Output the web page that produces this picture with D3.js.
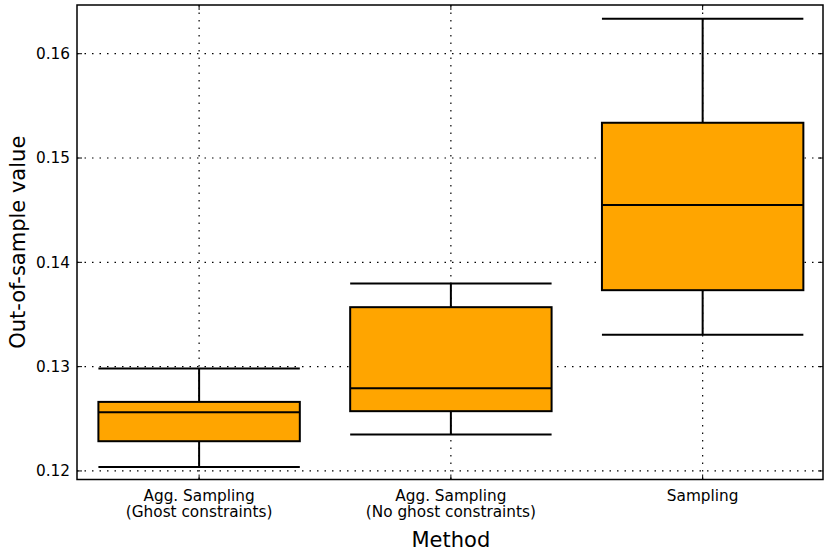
<!DOCTYPE html>
<html>
<head>
<meta charset="utf-8">
<script src="https://cdn.jsdelivr.net/npm/d3@7"></script>
<style>
  body { margin: 0; background: #fff; }
  text { font-family: "DejaVu Sans", sans-serif; }
</style>
</head>
<body>
<svg width="830" height="554"></svg>
<script>
"use strict";
// data
var methods = ['Agg. Sampling\n(Ghost constraints)', 'Agg. Sampling\n(No ghost constraints)', 'Sampling'];
var whiskerLow = [0.12038, 0.12349, 0.13305];
var q1 = [0.12285, 0.12573, 0.13733];
var median = [0.12563, 0.12793, 0.14549];
var q3 = [0.12662, 0.13570, 0.15338];
var whiskerHigh = [0.12982, 0.13798, 0.16336];
var yTicks = [0.12, 0.13, 0.14, 0.15, 0.16];

var svg = d3.select('svg');
var plotLeft = 77, plotRight = 823, plotTop = 5, plotBottom = 479.5;

var x = d3.scaleLinear().domain([0.515, 3.478]).range([plotLeft, plotRight]);
var y = d3.scaleLinear().domain([0.11918, 0.16467]).range([plotBottom, plotTop]);
var boxHalf = 0.4;

// grid
var grid = svg.append('g')
    .attr('stroke', '#000')
    .attr('stroke-width', 1.2)
    .attr('stroke-dasharray', '1.5,6');
grid.selectAll('.gy').data(yTicks).enter().append('line')
    .attr('x1', plotLeft).attr('x2', plotRight)
    .attr('y1', function (d) { return y(d); })
    .attr('y2', function (d) { return y(d); });
grid.selectAll('.gx').data(methods).enter().append('line')
    .attr('y1', plotTop).attr('y2', plotBottom)
    .attr('x1', function (d, i) { return x(i + 1); })
    .attr('x2', function (d, i) { return x(i + 1); });

// boxes
var boxG = svg.append('g');
methods.forEach(function (m, i) {
    var p = i + 1;
    var g = boxG.append('g');
    // whiskers
    g.append('line')
        .attr('x1', x(p)).attr('x2', x(p))
        .attr('y1', y(whiskerHigh[i])).attr('y2', y(q3[i]))
        .attr('stroke', '#000').attr('stroke-width', 2);
    g.append('line')
        .attr('x1', x(p)).attr('x2', x(p))
        .attr('y1', y(q1[i])).attr('y2', y(whiskerLow[i]))
        .attr('stroke', '#000').attr('stroke-width', 2);
    // caps
    [whiskerHigh[i], whiskerLow[i]].forEach(function (v) {
        g.append('line')
            .attr('x1', x(p - boxHalf)).attr('x2', x(p + boxHalf))
            .attr('y1', y(v)).attr('y2', y(v))
            .attr('stroke', '#000').attr('stroke-width', 2);
    });
    g.append('rect')
        .attr('x', x(p - boxHalf))
        .attr('width', x(p + boxHalf) - x(p - boxHalf))
        .attr('y', y(q3[i]))
        .attr('height', y(q1[i]) - y(q3[i]))
        .attr('fill', '#ffa500')
        .attr('stroke', '#000')
        .attr('stroke-width', 2);
    g.append('line')
        .attr('x1', x(p - boxHalf)).attr('x2', x(p + boxHalf))
        .attr('y1', y(median[i])).attr('y2', y(median[i]))
        .attr('stroke', '#000').attr('stroke-width', 2);
});

// frame
svg.append('rect')
    .attr('x', plotLeft).attr('y', plotTop)
    .attr('width', plotRight - plotLeft).attr('height', plotBottom - plotTop)
    .attr('fill', 'none').attr('stroke', '#000').attr('stroke-width', 1.5);

// ticks inside on all four sides
var tickLen = 5;
var ticks = svg.append('g').attr('stroke', '#000').attr('stroke-width', 1);
yTicks.forEach(function (t) {
    ticks.append('line').attr('x1', plotLeft).attr('x2', plotLeft + tickLen).attr('y1', y(t)).attr('y2', y(t));
    ticks.append('line').attr('x1', plotRight).attr('x2', plotRight - tickLen).attr('y1', y(t)).attr('y2', y(t));
});
methods.forEach(function (m, i) {
    var px = x(i + 1);
    ticks.append('line').attr('x1', px).attr('x2', px).attr('y1', plotBottom).attr('y2', plotBottom - tickLen);
    ticks.append('line').attr('x1', px).attr('x2', px).attr('y1', plotTop).attr('y2', plotTop + tickLen);
});

// tick labels
svg.append('g').selectAll('text').data(yTicks).enter().append('text')
    .attr('x', plotLeft - 7)
    .attr('y', function (d) { return y(d); })
    .attr('dy', '0.35em')
    .attr('text-anchor', 'end')
    .attr('font-size', 15.3)
    .text(function (d) { return d3.format('.2f')(d); });

var xl = svg.append('g');
methods.forEach(function (m, i) {
    var lines = m.split('\n');
    var t = xl.append('text')
        .attr('x', x(i + 1))
        .attr('y', 500.5)
        .attr('text-anchor', 'middle')
        .attr('font-size', 15.3);
    lines.forEach(function (s, k) {
        t.append('tspan').attr('x', x(i + 1)).attr('dy', k === 0 ? 0 : 16.5).text(s);
    });
});

// axis titles
svg.append('text')
    .attr('x', x(2)).attr('y', 546.5)
    .attr('text-anchor', 'middle')
    .attr('font-size', 21)
    .text('Method');
svg.append('text')
    .attr('transform', 'translate(24.5,' + (plotTop + plotBottom) / 2 + ') rotate(-90)')
    .attr('text-anchor', 'middle')
    .attr('font-size', 21)
    .text('Out-of-sample value');
</script>
</body>
</html>
